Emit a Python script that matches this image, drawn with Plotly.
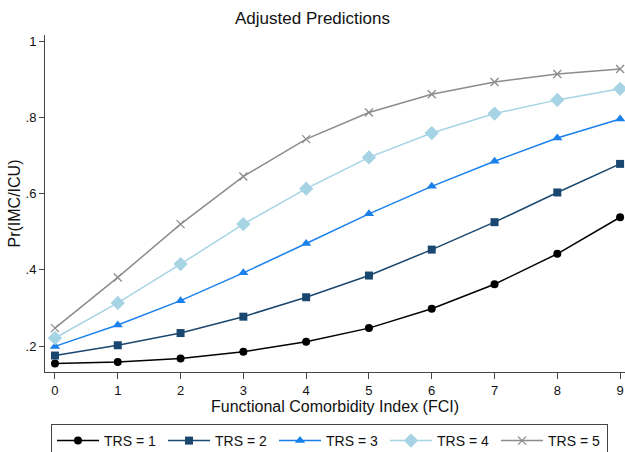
import plotly.graph_objects as go

fci = [0, 1, 2, 3, 4, 5, 6, 7, 8, 9]
trs1 = [0.154, 0.158, 0.167, 0.185, 0.211, 0.247, 0.298, 0.362, 0.442, 0.538]
trs2 = [0.175, 0.202, 0.234, 0.277, 0.328, 0.385, 0.453, 0.525, 0.603, 0.678]
trs3 = [0.199, 0.255, 0.319, 0.392, 0.469, 0.547, 0.619, 0.685, 0.746, 0.796]
trs4 = [0.221, 0.313, 0.415, 0.520, 0.613, 0.695, 0.759, 0.810, 0.846, 0.875]
trs5 = [0.247, 0.380, 0.520, 0.645, 0.743, 0.813, 0.861, 0.893, 0.914, 0.927]
series_names = ["TRS = 1", "TRS = 2", "TRS = 3", "TRS = 4", "TRS = 5"]
y_tick_vals = [0.2, 0.4, 0.6, 0.8, 1.0]
y_tick_text = [".2", ".4", ".6", ".8", "1"]
x_tick_vals = fci

styles = [
    dict(color="#000000", symbol="circle", size=8),
    dict(color="#1a476f", symbol="square", size=8),
    dict(color="#1a80ec", symbol="triangle-up", size=9),
    dict(color="#a6d4e4", symbol="diamond", size=11),
    dict(color="#8c8c8c", symbol="x-thin", size=8),
]

fig = go.Figure()
for name, ys, st in zip(series_names, [trs1, trs2, trs3, trs4, trs5], styles):
    marker = dict(symbol=st["symbol"], size=st["size"], color=st["color"])
    if st["symbol"] == "x-thin":
        marker["line"] = dict(color=st["color"], width=1.3)
    fig.add_trace(go.Scatter(
        x=fci, y=ys, name=name, mode="lines+markers",
        line=dict(color=st["color"], width=1.5),
        marker=marker, cliponaxis=False,
    ))

axis_color = "#444444"
fig.update_layout(
    width=625, height=452,
    paper_bgcolor="white", plot_bgcolor="white",
    font=dict(family="Liberation Sans, Arial, sans-serif", color="#111111", size=13),
    margin=dict(l=45, r=0, t=35, b=80, autoexpand=False),
    title=dict(text="Adjusted Predictions", x=0.5, xanchor="center",
               y=1 - 18 / 452, yanchor="middle", yref="container",
               font=dict(size=17, color="#111111")),
    xaxis=dict(
        range=[-0.159, 9.078], tickvals=x_tick_vals,
        showline=True, linecolor=axis_color, linewidth=1,
        ticks="outside", ticklen=6, tickcolor=axis_color,
        showgrid=False, zeroline=False,
        title=dict(text="Functional Comorbidity Index (FCI)", font=dict(size=16), standoff=2),
    ),
    yaxis=dict(
        range=[0.1318, 1.0163], tickvals=y_tick_vals, ticktext=y_tick_text,
        showline=True, linecolor=axis_color, linewidth=1,
        ticks="outside", ticklen=5, tickcolor=axis_color,
        showgrid=False, zeroline=False,
        title=dict(text="Pr(IMC/ICU)", font=dict(size=16), standoff=0),
    ),
    legend=dict(
        orientation="h", x=(51 - 45) / 580, xanchor="left",
        y=(372 - 424) / 337, yanchor="top",
        bordercolor=axis_color, borderwidth=1,
        itemwidth=42, entrywidth=54, font=dict(size=14), tracegroupgap=0,
    ),
    showlegend=True,
)

fig.write_html("out.html", config={"displayModeBar": False},
               post_script="document.body.style.margin='0';")
